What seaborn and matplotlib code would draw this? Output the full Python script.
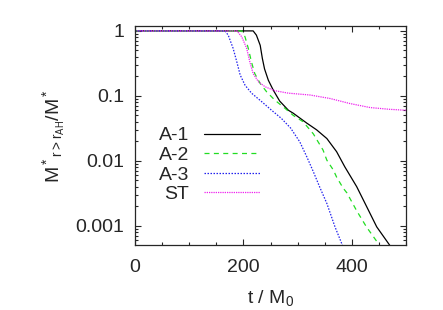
import matplotlib
matplotlib.use("Agg")
import matplotlib.pyplot as plt
import matplotlib.ticker as mticker
import seaborn as sns
import pandas as pd

sns.set_style("ticks")
plt.rcParams['font.family'] = ['Liberation Sans', 'DejaVu Sans']
plt.rcParams['mathtext.fontset'] = 'custom'
plt.rcParams['mathtext.rm'] = 'Liberation Sans'
plt.rcParams['mathtext.it'] = 'Liberation Sans'
plt.rcParams['mathtext.bf'] = 'Liberation Sans:bold'

# Data
t_a1 = [0, 218, 224, 231, 235, 239, 246, 255, 267, 283, 292, 317, 335, 354, 372, 387, 409, 427, 446, 470]
m_a1 = [1, 1, 0.86, 0.60, 0.376, 0.26, 0.174, 0.123, 0.083, 0.06, 0.054, 0.038, 0.030, 0.022,
        0.0138, 0.0081, 0.004, 0.0020, 0.00096, 0.0005]

t_a2 = [0, 197, 203, 209, 215, 221, 231, 243, 258, 277, 292, 310, 329, 347, 354, 366, 372, 384,
        391, 409, 427, 449]
m_a2 = [1, 1, 0.81, 0.54, 0.33, 0.22, 0.155, 0.115, 0.086, 0.064, 0.050, 0.040, 0.026, 0.0146,
        0.0102, 0.0072, 0.0056, 0.0038, 0.0032, 0.0017, 0.00096, 0.00053]

t_a3 = [0, 166, 172, 181, 188, 194, 203, 215, 234, 252, 270, 287, 304, 317, 329, 341, 354, 369, 384]
m_a3 = [1, 1, 0.86, 0.54, 0.33, 0.21, 0.146, 0.11, 0.081, 0.06, 0.045, 0.032, 0.0196, 0.0115,
        0.0068, 0.0039, 0.0022, 0.00096, 0.00047]

t_st = [0, 188, 197, 206, 212, 218, 228, 240, 258, 283, 323, 360, 397, 434, 470, 500]
m_st = [1, 1, 0.81, 0.54, 0.33, 0.22, 0.164, 0.138, 0.12, 0.11, 0.103, 0.091, 0.076, 0.066,
        0.062, 0.060]

labels = ["A-1", "A-2", "A-3", "ST"]
colors = ["black", "#22dd22", "#2222ee", "#ee22ee"]
styles = ["-", (0, (4, 3.5)), (0, (1.2, 1.2)), (0, (1, 0.8))]

series = [(t_a1, m_a1), (t_a2, m_a2), (t_a3, m_a3), (t_st, m_st)]

fig = plt.figure(figsize=(4.43, 3.10), dpi=100)
ax = fig.add_axes([135/443, 65/310, 271/443, 219/310])

for (t, m), lab, c, ls in zip(series, labels, colors, styles):
    df = pd.DataFrame({"t": t, "m": m})
    sns.lineplot(data=df, x="t", y="m", ax=ax, color=c, lw=0.9, label=lab)
    ax.lines[-1].set_linestyle(ls)

ax.set_yscale("log")
ax.set_xlim(0, 500)
ax.set_ylim(5.05e-4, 1.19)
ax.xaxis.set_major_locator(mticker.MultipleLocator(200))
ax.xaxis.set_minor_locator(mticker.MultipleLocator(50))
ax.yaxis.set_major_locator(mticker.LogLocator(base=10, numticks=10))
ax.yaxis.set_minor_locator(mticker.LogLocator(base=10, subs=range(2, 10), numticks=20))
ax.yaxis.set_major_formatter(mticker.FuncFormatter(lambda v, p: ('%g' % v)))
ax.yaxis.set_minor_formatter(mticker.NullFormatter())

ax.tick_params(which="both", direction="in", top=True, right=True, labelsize=14, width=0.8)
ax.tick_params(which="major", length=4)
ax.tick_params(axis="x", which="major", pad=10)
ax.tick_params(axis="y", which="major", pad=8)
ax.tick_params(which="minor", length=2)
for s in ax.spines.values():
    s.set_linewidth(0.9)

ax.set_xlabel(r"t / M$_0$", fontsize=14, labelpad=9)
ax.set_ylabel(r"M$^*{}_{\mathregular{r>r}_{\mathregular{AH}}}$/M$^*$", fontsize=14, labelpad=6)

leg = ax.legend(loc="upper left", bbox_to_anchor=(0.06, 0.575), frameon=False,
                markerfirst=False, fontsize=14, handlelength=2.9, handletextpad=0.75,
                labelspacing=0.1, borderaxespad=0)

fig.savefig("out.png", dpi=100)
